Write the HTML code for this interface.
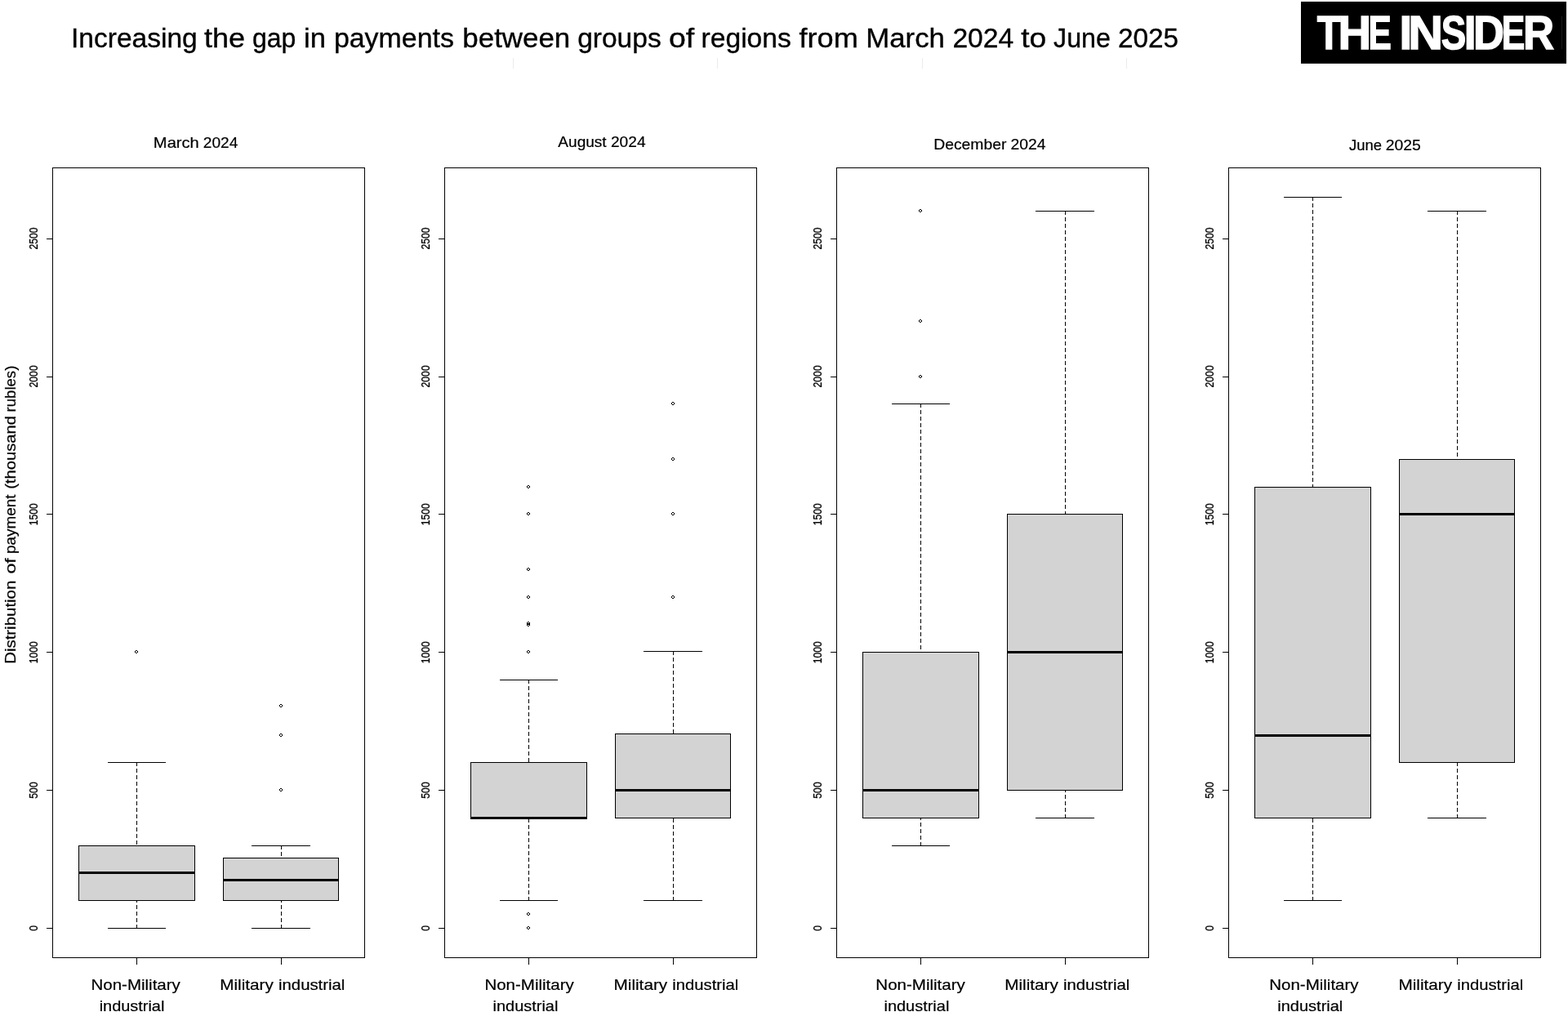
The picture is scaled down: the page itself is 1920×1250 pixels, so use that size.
<!DOCTYPE html>
<html lang="en"><head><meta charset="utf-8"><title>Increasing the gap in payments between groups of regions</title>
<style>
html,body{margin:0;padding:0;background:#fff;}
body{width:1920px;height:1250px;overflow:hidden;font-family:"Liberation Sans",sans-serif;}
svg{display:block;}
text{font-family:"Liberation Sans",sans-serif;fill:#000;font-kerning:none;white-space:pre;}
.ttl{font-size:33.6px;stroke:#000;stroke-width:0.35px;}
.logo{font-size:57px;font-weight:bold;fill:#fff;stroke:#fff;stroke-width:1.4px;stroke-linejoin:miter;}
.ylab{font-size:18.1px;stroke:#000;stroke-width:0.2px;}
.tk{font-size:12.2px;stroke:#000;stroke-width:0.25px;}
.lb{font-size:18.7px;stroke:#000;stroke-width:0.2px;}
.pt{font-size:19px;}
</style></head><body>
<svg width="1920" height="1250" viewBox="0 0 1920 1250">
<defs><path id="pt" d="M-1,-2h2v1h-2zM-2,-1h1v2h-1zM1,-1h1v2h-1zM-1,1h2v1h-2z"/></defs>
<rect width="1920" height="1250" fill="#fff"/>
<g stroke="#ebebeb" stroke-width="1" shape-rendering="crispEdges">
<line x1="628.5" y1="71" x2="628.5" y2="84"/>
<line x1="878.5" y1="71" x2="878.5" y2="84"/>
<line x1="1129.5" y1="71" x2="1129.5" y2="84"/>
<line x1="1379.5" y1="71" x2="1379.5" y2="84"/>
</g>
<text class="ttl" y="58"><tspan x="87.01" textLength="154.71" lengthAdjust="spacingAndGlyphs">Increasing</tspan> <tspan x="249.90" textLength="50.15" lengthAdjust="spacingAndGlyphs">the</tspan> <tspan x="308.91" textLength="53.39" lengthAdjust="spacingAndGlyphs">gap</tspan> <tspan x="372.04" textLength="26.91" lengthAdjust="spacingAndGlyphs">in</tspan> <tspan x="408.91" textLength="147.01" lengthAdjust="spacingAndGlyphs">payments</tspan> <tspan x="566.35" textLength="131.86" lengthAdjust="spacingAndGlyphs">between</tspan> <tspan x="707.19" textLength="102.47" lengthAdjust="spacingAndGlyphs">groups</tspan> <tspan x="818.93" textLength="31.22" lengthAdjust="spacingAndGlyphs">of</tspan> <tspan x="858.51" textLength="110.40" lengthAdjust="spacingAndGlyphs">regions</tspan> <tspan x="978.49" textLength="72.35" lengthAdjust="spacingAndGlyphs">from</tspan> <tspan x="1060.24" textLength="96.72" lengthAdjust="spacingAndGlyphs">March</tspan> <tspan x="1166.41" textLength="74.78" lengthAdjust="spacingAndGlyphs">2024</tspan> <tspan x="1250.19" textLength="31.08" lengthAdjust="spacingAndGlyphs">to</tspan> <tspan x="1290.10" textLength="69.78" lengthAdjust="spacingAndGlyphs">June</tspan> <tspan x="1368.92" textLength="74.18" lengthAdjust="spacingAndGlyphs">2025</tspan></text>
<rect x="1593" y="2" width="325" height="75.85" fill="#000"/>
<line x1="1912.5" y1="20" x2="1912.5" y2="60" stroke="#1c1c1c" stroke-width="1" shape-rendering="crispEdges"/>
<g><title>THE INSIDER</title><text class="logo" y="59.85"><tspan x="1612.67" textLength="29.04" lengthAdjust="spacingAndGlyphs">T</tspan><tspan x="1638.43" textLength="40.66" lengthAdjust="spacingAndGlyphs">H</tspan><tspan x="1675.56" textLength="28.29" lengthAdjust="spacingAndGlyphs">E</tspan> <tspan x="1713.62" textLength="15.72" lengthAdjust="spacingAndGlyphs">I</tspan><tspan x="1724.23" textLength="42.81" lengthAdjust="spacingAndGlyphs">N</tspan><tspan x="1764.78" textLength="30.50" lengthAdjust="spacingAndGlyphs">S</tspan><tspan x="1792.82" textLength="14.85" lengthAdjust="spacingAndGlyphs">I</tspan><tspan x="1803.88" textLength="38.03" lengthAdjust="spacingAndGlyphs">D</tspan><tspan x="1838.63" textLength="28.59" lengthAdjust="spacingAndGlyphs">E</tspan><tspan x="1865.07" textLength="38.11" lengthAdjust="spacingAndGlyphs">R</tspan></text></g>
<text class="ylab" transform="translate(18.9,811.2) rotate(-90)" y="0"><tspan x="-1.68" textLength="102.20" lengthAdjust="spacingAndGlyphs">Distribution</tspan> <tspan x="108.63" textLength="19.34" lengthAdjust="spacingAndGlyphs">of</tspan> <tspan x="133.18" textLength="72.56" lengthAdjust="spacingAndGlyphs">payment</tspan> <tspan x="212.35" textLength="89.75" lengthAdjust="spacingAndGlyphs">(thousand</tspan> <tspan x="306.77" textLength="56.79" lengthAdjust="spacingAndGlyphs">rubles)</tspan></text>
<g shape-rendering="crispEdges" stroke="#000" stroke-width="1" fill="none">
<rect x="64.5" y="205.5" width="382" height="967"/>
<line x1="57" y1="1136.5" x2="64" y2="1136.5"/>
<line x1="57" y1="967.5" x2="64" y2="967.5"/>
<line x1="57" y1="798.5" x2="64" y2="798.5"/>
<line x1="57" y1="629.5" x2="64" y2="629.5"/>
<line x1="57" y1="461.5" x2="64" y2="461.5"/>
<line x1="57" y1="292.5" x2="64" y2="292.5"/>
<line x1="167.5" y1="1173" x2="167.5" y2="1181"/>
<line x1="344.5" y1="1173" x2="344.5" y2="1181"/>
<line x1="167.5" y1="933.0" x2="167.5" y2="1035.5" stroke-dasharray="5 3"/>
<line x1="167.5" y1="1137.0" x2="167.5" y2="1102.5" stroke-dasharray="5 3"/>
<line x1="132.0" y1="933.5" x2="203.0" y2="933.5"/>
<line x1="132.0" y1="1136.5" x2="203.0" y2="1136.5"/>
<rect x="96.5" y="1035.5" width="142.0" height="67.0" fill="#d3d3d3"/>
<line x1="96.0" y1="1068.5" x2="239.0" y2="1068.5" stroke-width="3"/>
<use href="#pt" x="167.0" y="798" fill="#000" stroke="none"/>
<line x1="344.5" y1="1035.0" x2="344.5" y2="1050.5" stroke-dasharray="5 3"/>
<line x1="344.5" y1="1137.0" x2="344.5" y2="1102.5" stroke-dasharray="5 3"/>
<line x1="308.0" y1="1035.5" x2="380.0" y2="1035.5"/>
<line x1="308.0" y1="1136.5" x2="380.0" y2="1136.5"/>
<rect x="273.5" y="1050.5" width="141.0" height="52.0" fill="#d3d3d3"/>
<line x1="273.0" y1="1077.5" x2="415.0" y2="1077.5" stroke-width="3"/>
<use href="#pt" x="344.0" y="967" fill="#000" stroke="none"/>
<use href="#pt" x="344.0" y="900" fill="#000" stroke="none"/>
<use href="#pt" x="344.0" y="864" fill="#000" stroke="none"/>
</g>
<text class="tk" transform="translate(46,1136.4) rotate(-90) scale(1,1.19)" text-anchor="middle">0</text>
<text class="tk" transform="translate(46,967.5) rotate(-90) scale(1,1.19)" text-anchor="middle">500</text>
<text class="tk" transform="translate(46,798.7) rotate(-90) scale(1,1.19)" text-anchor="middle">1000</text>
<text class="tk" transform="translate(46,629.8) rotate(-90) scale(1,1.19)" text-anchor="middle">1500</text>
<text class="tk" transform="translate(46,460.9) rotate(-90) scale(1,1.19)" text-anchor="middle">2000</text>
<text class="tk" transform="translate(46,292.0) rotate(-90) scale(1,1.19)" text-anchor="middle">2500</text>
<text class="lb pt" y="180.60"><tspan x="187.88" textLength="55.93" lengthAdjust="spacingAndGlyphs">March</tspan> <tspan x="248.82" textLength="42.57" lengthAdjust="spacingAndGlyphs">2024</tspan></text>
<text class="lb" x="111.52" y="1211.9" textLength="109.32" lengthAdjust="spacingAndGlyphs">Non-Military</text>
<text class="lb" x="121.67" y="1237.75" textLength="79.66" lengthAdjust="spacingAndGlyphs">industrial</text>
<text class="lb" y="1211.9"><tspan x="269.20" textLength="65.74" lengthAdjust="spacingAndGlyphs">Military</tspan> <tspan x="341.04" textLength="81.32" lengthAdjust="spacingAndGlyphs">industrial</tspan></text>
<g shape-rendering="crispEdges" stroke="#000" stroke-width="1" fill="none">
<rect x="544.5" y="205.5" width="382" height="967"/>
<line x1="537" y1="1136.5" x2="544" y2="1136.5"/>
<line x1="537" y1="967.5" x2="544" y2="967.5"/>
<line x1="537" y1="798.5" x2="544" y2="798.5"/>
<line x1="537" y1="629.5" x2="544" y2="629.5"/>
<line x1="537" y1="461.5" x2="544" y2="461.5"/>
<line x1="537" y1="292.5" x2="544" y2="292.5"/>
<line x1="647.5" y1="1173" x2="647.5" y2="1181"/>
<line x1="824.5" y1="1173" x2="824.5" y2="1181"/>
<line x1="647.5" y1="832.0" x2="647.5" y2="933.5" stroke-dasharray="5 3"/>
<line x1="647.5" y1="1103.0" x2="647.5" y2="1001.5" stroke-dasharray="5 3"/>
<line x1="612.0" y1="832.5" x2="683.0" y2="832.5"/>
<line x1="612.0" y1="1102.5" x2="683.0" y2="1102.5"/>
<rect x="576.5" y="933.5" width="142.0" height="68.0" fill="#d3d3d3"/>
<line x1="576.0" y1="1001.5" x2="719.0" y2="1001.5" stroke-width="3"/>
<use href="#pt" x="647.0" y="1136" fill="#000" stroke="none"/>
<use href="#pt" x="647.0" y="1119" fill="#000" stroke="none"/>
<use href="#pt" x="647.0" y="798" fill="#000" stroke="none"/>
<use href="#pt" x="647.0" y="765" fill="#000" stroke="none"/>
<use href="#pt" x="647.0" y="763" fill="#000" stroke="none"/>
<use href="#pt" x="647.0" y="731" fill="#000" stroke="none"/>
<use href="#pt" x="647.0" y="697" fill="#000" stroke="none"/>
<use href="#pt" x="647.0" y="629" fill="#000" stroke="none"/>
<use href="#pt" x="647.0" y="596" fill="#000" stroke="none"/>
<line x1="824.5" y1="797.0" x2="824.5" y2="898.5" stroke-dasharray="5 3"/>
<line x1="824.5" y1="1103.0" x2="824.5" y2="1001.5" stroke-dasharray="5 3"/>
<line x1="788.0" y1="797.5" x2="860.0" y2="797.5"/>
<line x1="788.0" y1="1102.5" x2="860.0" y2="1102.5"/>
<rect x="753.5" y="898.5" width="141.0" height="103.0" fill="#d3d3d3"/>
<line x1="753.0" y1="967.5" x2="895.0" y2="967.5" stroke-width="3"/>
<use href="#pt" x="824.0" y="731" fill="#000" stroke="none"/>
<use href="#pt" x="824.0" y="629" fill="#000" stroke="none"/>
<use href="#pt" x="824.0" y="562" fill="#000" stroke="none"/>
<use href="#pt" x="824.0" y="494" fill="#000" stroke="none"/>
</g>
<text class="tk" transform="translate(526,1136.4) rotate(-90) scale(1,1.19)" text-anchor="middle">0</text>
<text class="tk" transform="translate(526,967.5) rotate(-90) scale(1,1.19)" text-anchor="middle">500</text>
<text class="tk" transform="translate(526,798.7) rotate(-90) scale(1,1.19)" text-anchor="middle">1000</text>
<text class="tk" transform="translate(526,629.8) rotate(-90) scale(1,1.19)" text-anchor="middle">1500</text>
<text class="tk" transform="translate(526,460.9) rotate(-90) scale(1,1.19)" text-anchor="middle">2000</text>
<text class="tk" transform="translate(526,292.0) rotate(-90) scale(1,1.19)" text-anchor="middle">2500</text>
<text class="lb pt" y="179.60"><tspan x="683.33" textLength="59.31" lengthAdjust="spacingAndGlyphs">August</tspan> <tspan x="747.99" textLength="42.57" lengthAdjust="spacingAndGlyphs">2024</tspan></text>
<text class="lb" x="593.42" y="1211.9" textLength="109.32" lengthAdjust="spacingAndGlyphs">Non-Military</text>
<text class="lb" x="603.57" y="1237.75" textLength="79.77" lengthAdjust="spacingAndGlyphs">industrial</text>
<text class="lb" y="1211.9"><tspan x="751.50" textLength="65.74" lengthAdjust="spacingAndGlyphs">Military</tspan> <tspan x="823.35" textLength="80.90" lengthAdjust="spacingAndGlyphs">industrial</tspan></text>
<g shape-rendering="crispEdges" stroke="#000" stroke-width="1" fill="none">
<rect x="1024.5" y="205.5" width="382" height="967"/>
<line x1="1017" y1="1136.5" x2="1024" y2="1136.5"/>
<line x1="1017" y1="967.5" x2="1024" y2="967.5"/>
<line x1="1017" y1="798.5" x2="1024" y2="798.5"/>
<line x1="1017" y1="629.5" x2="1024" y2="629.5"/>
<line x1="1017" y1="461.5" x2="1024" y2="461.5"/>
<line x1="1017" y1="292.5" x2="1024" y2="292.5"/>
<line x1="1127.5" y1="1173" x2="1127.5" y2="1181"/>
<line x1="1304.5" y1="1173" x2="1304.5" y2="1181"/>
<line x1="1127.5" y1="494.0" x2="1127.5" y2="798.5" stroke-dasharray="5 3"/>
<line x1="1127.5" y1="1036.0" x2="1127.5" y2="1001.5" stroke-dasharray="5 3"/>
<line x1="1092.0" y1="494.5" x2="1163.0" y2="494.5"/>
<line x1="1092.0" y1="1035.5" x2="1163.0" y2="1035.5"/>
<rect x="1056.5" y="798.5" width="142.0" height="203.0" fill="#d3d3d3"/>
<line x1="1056.0" y1="967.5" x2="1199.0" y2="967.5" stroke-width="3"/>
<use href="#pt" x="1127.0" y="461" fill="#000" stroke="none"/>
<use href="#pt" x="1127.0" y="393" fill="#000" stroke="none"/>
<use href="#pt" x="1127.0" y="258" fill="#000" stroke="none"/>
<line x1="1304.5" y1="258.0" x2="1304.5" y2="629.5" stroke-dasharray="5 3"/>
<line x1="1304.5" y1="1002.0" x2="1304.5" y2="967.5" stroke-dasharray="5 3"/>
<line x1="1268.0" y1="258.5" x2="1340.0" y2="258.5"/>
<line x1="1268.0" y1="1001.5" x2="1340.0" y2="1001.5"/>
<rect x="1233.5" y="629.5" width="141.0" height="338.0" fill="#d3d3d3"/>
<line x1="1233.0" y1="798.5" x2="1375.0" y2="798.5" stroke-width="3"/>
</g>
<text class="tk" transform="translate(1006,1136.4) rotate(-90) scale(1,1.19)" text-anchor="middle">0</text>
<text class="tk" transform="translate(1006,967.5) rotate(-90) scale(1,1.19)" text-anchor="middle">500</text>
<text class="tk" transform="translate(1006,798.7) rotate(-90) scale(1,1.19)" text-anchor="middle">1000</text>
<text class="tk" transform="translate(1006,629.8) rotate(-90) scale(1,1.19)" text-anchor="middle">1500</text>
<text class="tk" transform="translate(1006,460.9) rotate(-90) scale(1,1.19)" text-anchor="middle">2000</text>
<text class="tk" transform="translate(1006,292.0) rotate(-90) scale(1,1.19)" text-anchor="middle">2500</text>
<text class="lb pt" y="182.55"><tspan x="1143.19" textLength="89.21" lengthAdjust="spacingAndGlyphs">December</tspan> <tspan x="1237.56" textLength="43.01" lengthAdjust="spacingAndGlyphs">2024</tspan></text>
<text class="lb" x="1072.32" y="1211.9" textLength="109.52" lengthAdjust="spacingAndGlyphs">Non-Military</text>
<text class="lb" x="1082.46" y="1237.75" textLength="79.87" lengthAdjust="spacingAndGlyphs">industrial</text>
<text class="lb" y="1211.9"><tspan x="1230.20" textLength="65.74" lengthAdjust="spacingAndGlyphs">Military</tspan> <tspan x="1302.04" textLength="81.22" lengthAdjust="spacingAndGlyphs">industrial</tspan></text>
<g shape-rendering="crispEdges" stroke="#000" stroke-width="1" fill="none">
<rect x="1504.5" y="205.5" width="382" height="967"/>
<line x1="1497" y1="1136.5" x2="1504" y2="1136.5"/>
<line x1="1497" y1="967.5" x2="1504" y2="967.5"/>
<line x1="1497" y1="798.5" x2="1504" y2="798.5"/>
<line x1="1497" y1="629.5" x2="1504" y2="629.5"/>
<line x1="1497" y1="461.5" x2="1504" y2="461.5"/>
<line x1="1497" y1="292.5" x2="1504" y2="292.5"/>
<line x1="1607.5" y1="1173" x2="1607.5" y2="1181"/>
<line x1="1784.5" y1="1173" x2="1784.5" y2="1181"/>
<line x1="1607.5" y1="241.0" x2="1607.5" y2="596.5" stroke-dasharray="5 3"/>
<line x1="1607.5" y1="1103.0" x2="1607.5" y2="1001.5" stroke-dasharray="5 3"/>
<line x1="1572.0" y1="241.5" x2="1643.0" y2="241.5"/>
<line x1="1572.0" y1="1102.5" x2="1643.0" y2="1102.5"/>
<rect x="1536.5" y="596.5" width="142.0" height="405.0" fill="#d3d3d3"/>
<line x1="1536.0" y1="900.5" x2="1679.0" y2="900.5" stroke-width="3"/>
<line x1="1784.5" y1="258.0" x2="1784.5" y2="562.5" stroke-dasharray="5 3"/>
<line x1="1784.5" y1="1002.0" x2="1784.5" y2="933.5" stroke-dasharray="5 3"/>
<line x1="1748.0" y1="258.5" x2="1820.0" y2="258.5"/>
<line x1="1748.0" y1="1001.5" x2="1820.0" y2="1001.5"/>
<rect x="1713.5" y="562.5" width="141.0" height="371.0" fill="#d3d3d3"/>
<line x1="1713.0" y1="629.5" x2="1855.0" y2="629.5" stroke-width="3"/>
</g>
<text class="tk" transform="translate(1486,1136.4) rotate(-90) scale(1,1.19)" text-anchor="middle">0</text>
<text class="tk" transform="translate(1486,967.5) rotate(-90) scale(1,1.19)" text-anchor="middle">500</text>
<text class="tk" transform="translate(1486,798.7) rotate(-90) scale(1,1.19)" text-anchor="middle">1000</text>
<text class="tk" transform="translate(1486,629.8) rotate(-90) scale(1,1.19)" text-anchor="middle">1500</text>
<text class="tk" transform="translate(1486,460.9) rotate(-90) scale(1,1.19)" text-anchor="middle">2000</text>
<text class="tk" transform="translate(1486,292.0) rotate(-90) scale(1,1.19)" text-anchor="middle">2500</text>
<text class="lb pt" y="184.40"><tspan x="1651.99" textLength="40.08" lengthAdjust="spacingAndGlyphs">June</tspan> <tspan x="1696.73" textLength="43.09" lengthAdjust="spacingAndGlyphs">2025</tspan></text>
<text class="lb" x="1554.17" y="1211.9" textLength="109.47" lengthAdjust="spacingAndGlyphs">Non-Military</text>
<text class="lb" x="1564.26" y="1237.75" textLength="80.08" lengthAdjust="spacingAndGlyphs">industrial</text>
<text class="lb" y="1211.9"><tspan x="1712.40" textLength="65.74" lengthAdjust="spacingAndGlyphs">Military</tspan> <tspan x="1784.25" textLength="80.90" lengthAdjust="spacingAndGlyphs">industrial</tspan></text>
</svg>
</body></html>
